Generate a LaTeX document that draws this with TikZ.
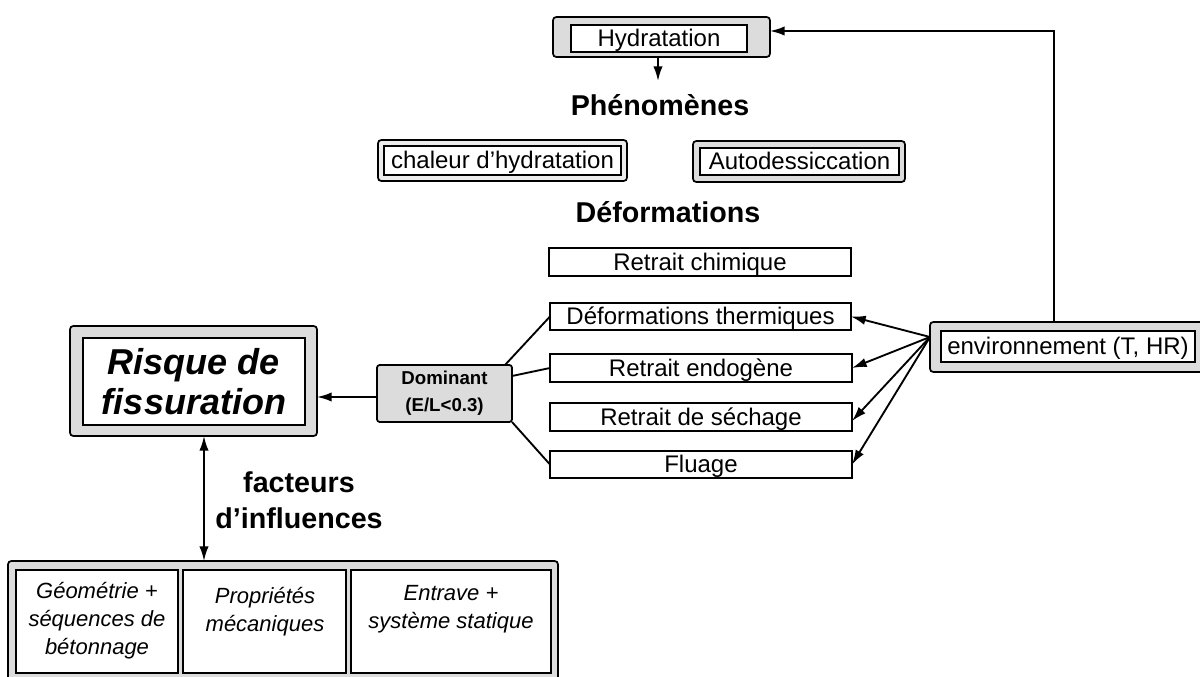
\documentclass[tikz,border=0pt]{standalone}
\usepackage{fontspec}
\setmainfont{Liberation Sans}
\usetikzlibrary{arrows.meta,calc}
\definecolor{boxgray}{RGB}{220,220,220}
\definecolor{lightring}{RGB}{236,236,236}
\tikzset{
  every node/.style={inner sep=0pt, outer sep=0pt},
  sz/.style 2 args={minimum width=#1*0.75pt, minimum height=#2*0.75pt},
  outerbox/.style={draw=black, line width=1.3pt, fill=boxgray, rounded corners=2.5pt},
  innerbox/.style={draw=black, line width=1.3pt, fill=white, font=\fontsize{18}{21}\selectfont, text height=13pt, text depth=0.5pt},
  plainbox/.style={draw=black, line width=1.1pt, fill=white, font=\fontsize{18}{21}\selectfont, text height=13pt, text depth=0.5pt},
  heading/.style={font=\fontsize{21.5}{25}\selectfont\bfseries},
  conn/.style={line width=1.4pt},
  tip/.tip={Latex[length=11pt,width=7pt]},
  arr/.style={conn, -tip},
  ital/.style={font=\fontsize{16.5}{21}\selectfont\itshape, align=center},
}
\begin{document}
\begin{tikzpicture}[x=0.75pt,y=-0.75pt]
\useasboundingbox (0,0) rectangle (1200,677);
\fill[white] (0,0) rectangle (1200,677);

% Hydratation
\node[outerbox, sz={217}{40}] (hyd) at (661.5,37) {};
\node[innerbox, sz={176}{27}] (hydi) at (659,38.5) {Hydratation};

% headings
\node[heading] (phen) at (660,105) {Phénomènes};
\node[heading] (defo) at (668,212) {Déformations};

% chaleur / autodessiccation
\node[outerbox, fill=lightring, sz={249}{41}] (chal) at (502.5,160.5) {};
\node[innerbox, sz={237}{29}] (chali) at (502.5,160.5) {chaleur d’hydratation};
\node[outerbox, sz={212}{41}] (auto) at (799,161.5) {};
\node[innerbox, sz={199}{27}] (autoi) at (799.5,161.5) {Autodessiccation};

% deformation boxes
\node[plainbox, sz={302}{28}] (chim) at (700,262) {Retrait chimique};
\node[plainbox, sz={301}{27}] (therm) at (700.5,316.5) {Déformations thermiques};
\node[plainbox, sz={302}{28}] (endo) at (701,368) {Retrait endogène};
\node[plainbox, sz={302}{28}] (sech) at (701,417) {Retrait de séchage};
\node[plainbox, sz={302}{27}] (flu) at (701,464.5) {Fluage};

% Dominant
\node[draw=black, line width=1.3pt, fill=boxgray, rounded corners=2pt, sz={135}{57},
      font=\fontsize{14}{20}\selectfont\bfseries, align=center] (dom) at (444.5,393.5) {Dominant\\(E/L<0.3)};

% Risque
\node[outerbox, sz={247}{110}] (risk) at (193.5,381) {};
\node[innerbox, sz={222}{87}, text height=, text depth=, font=\fontsize{27}{30}\selectfont\bfseries\itshape, align=center] (riski) at (194,381.5) {Risque de\\fissuration};

% facteurs
\node[align=center, font=\fontsize{21.5}{27}\selectfont\bfseries] (fact) at (299,500) {facteurs\\d’influences};

% environnement
\node[outerbox, sz={290}{50}] (env) at (1075,347) {};
\node[innerbox, sz={254}{31}] (envi) at (1068,346.5) {environnement (T, HR)};

% bottom box
\node[outerbox, sz={550}{140}, anchor=north west] (bot) at (8,561) {};
\node[innerbox, sz={162}{103}] (b1) at (97,621.5) {};
\node[innerbox, sz={163}{103}] (b2) at (264.5,621.5) {};
\node[innerbox, sz={200}{103}] (b3) at (451,621.5) {};
\node[ital] (t1) at (97,621) {Géométrie +\\séquences de\\bétonnage};
\node[ital] (t2) at (265,612) {Propriétés\\mécaniques};
\node[ital] (t3) at (451,609) {Entrave +\\système statique};

% connectors
\coordinate (pa) at (658,81);
\draw[arr] (pa |- hyd.south) -- (pa);

\coordinate (corner) at (1054,31);
\draw[arr] (corner |- env.north) -- (corner) -- (corner -| hyd.east);

\coordinate (ep) at (930,337);
\draw[arr] (ep) -- (therm.east);
\draw[arr] (ep) -- (endo.east);
\draw[arr] (ep) -- ($(sech.east)+(0,4)$);
\draw[arr] (ep) -- (flu.east);

\coordinate (ay) at (0,397);
\draw[arr] (dom.west |- ay) -- (risk.east |- ay);

\draw[conn] ($(dom.north east)+(-7,0)$) -- (therm.west);
\draw[conn] ($(dom.north east)+(0,11)$) -- (endo.west);
\draw[conn] (dom.south east) -- (flu.west);

\coordinate (ax) at (204,0);
\draw[conn, tip-tip] (risk.south -| ax) -- (bot.north -| ax);
\end{tikzpicture}
\end{document}
